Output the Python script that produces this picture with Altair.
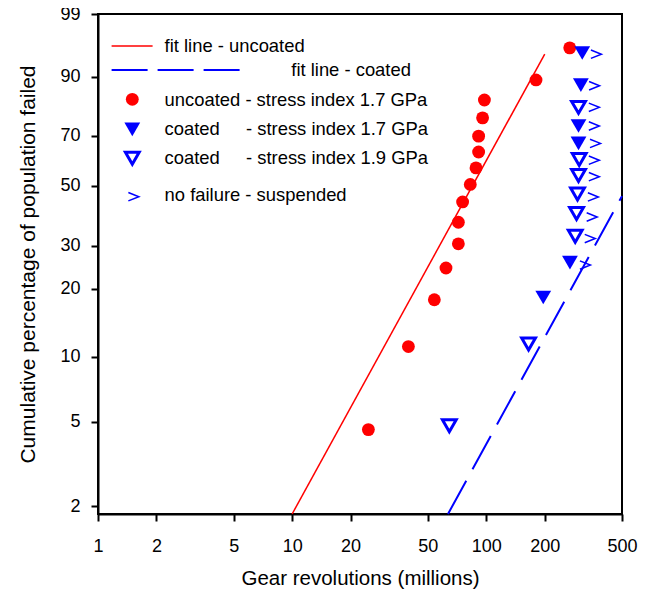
import numpy as np
import pandas as pd
import altair as alt

FONT = "Liberation Sans"
RED = "#ff0000"
BLUE = "#0000ff"

# ---- data ----
uncoated_rev = [24.7, 39.7, 54.0, 62.0, 71.8, 71.8, 75.5, 82.7, 88.5, 91.3, 91.3, 95.7, 97.8, 180.3, 269.0]
uncoated_pct = [4.6, 11.1, 17.9, 24.4, 30.6, 37.1, 44.0, 50.5, 57.0, 63.4, 69.8, 76.9, 83.2, 89.2, 95.8]

coated17_rev = [312.0, 307.0, 298.5, 298.5, 269.7, 196.5]
coated17_pct = [95.0, 87.8, 73.8, 66.9, 25.7, 18.3]

coated19_rev = [298.5, 301.0, 298.5, 295.0, 291.6, 287.1, 165.1, 64.5]
coated19_pct = [80.7, 60.4, 54.0, 46.9, 40.0, 32.8, 11.4, 4.8]

suspended_rev = [368.0, 360.0, 359.0, 359.0, 364.0, 359.0, 359.0, 355.0, 350.0, 342.0, 323.0]
suspended_pct = [94.8, 87.6, 80.7, 73.8, 66.9, 60.1, 53.5, 45.8, 38.8, 32.1, 25.1]

fit_uncoated_rev = [10.0, 200.0]
fit_uncoated_pct = [1.84, 94.8]
fit_coated_rev = [63.5, 500.0]
fit_coated_pct = [1.84, 46.1]

x_ticks = [1, 2, 5, 10, 20, 50, 100, 200, 500]
y_ticks_pct = [2, 5, 10, 20, 30, 50, 70, 90, 99]
y_range_pct = [1.84, 99.0]

legend_labels = [
    "fit line - uncoated",
    "fit line - coated",
    "uncoated - stress index 1.7 GPa",
    "coated",
    "- stress index 1.7 GPa",
    "coated",
    "- stress index 1.9 GPa",
    "no failure - suspended",
]


def weib(p):
    p = np.asarray(p, dtype=float)
    return np.log(-np.log(1.0 - p / 100.0))


W_EXPR = "log(-log(1 - datum.pct/100))"
y_dom = [float(v) for v in weib(y_range_pct)]
y_tick_vals = [float(v) for v in weib(y_ticks_pct)]

x_enc = alt.X(
    "rev:Q",
    scale=alt.Scale(type="log", domain=[1, 500], nice=False),
    axis=alt.Axis(
        values=x_ticks, format="d", title="Gear revolutions (millions)",
        labelFlush=False, labelOverlap=False, grid=False,
        tickSize=7, labelPadding=16, titleFontSize=20.5,
        titleX=262, titleY=64.5, titleBaseline="middle", titleAlign="center",
    ),
)
y_enc = alt.Y(
    "w:Q",
    scale=alt.Scale(domain=y_dom, nice=False, zero=False),
    axis=alt.Axis(
        values=y_tick_vals,
        labelExpr="format(100*(1-exp(-exp(datum.value))), '.0f')",
        title="Cumulative percentage of population failed",
        labelFlush=False, labelOverlap=False, grid=False,
        tickSize=7, labelPadding=11, titleFontSize=21,
        titleX=-70, titleY=250, titleAngle=270, titleBaseline="middle", titleAlign="center",
    ),
)


def frame(rev, pct):
    return pd.DataFrame({"rev": rev, "pct": pct})


def layer_of(rev, pct):
    return alt.Chart(frame(rev, pct)).transform_calculate(w=W_EXPR)


fit_u = layer_of(fit_uncoated_rev, fit_uncoated_pct).mark_line(
    color=RED, strokeWidth=1.5).encode(x=x_enc, y=y_enc)
fit_c = layer_of(fit_coated_rev, fit_coated_pct).mark_line(
    color=BLUE, strokeWidth=2, strokeDash=[38, 13]).encode(x=x_enc, y=y_enc)

pts_u = layer_of(uncoated_rev, uncoated_pct).mark_point(
    shape="circle", filled=True, color=RED, size=165, opacity=1).encode(x=x_enc, y=y_enc)
pts_c17 = layer_of(coated17_rev, coated17_pct).mark_point(
    shape="triangle-down", filled=True, color=BLUE, size=250, opacity=1).encode(x=x_enc, y=y_enc)
pts_c19 = layer_of(coated19_rev, coated19_pct).mark_point(
    shape="triangle-down", filled=False, color=BLUE, strokeWidth=3, size=190, opacity=1).encode(x=x_enc, y=y_enc)
CHEVRON = "M-1,-0.8L1,0L-1,0.8"
pts_s = layer_of(suspended_rev, suspended_pct).mark_point(
    shape=CHEVRON, filled=False, color=BLUE, strokeWidth=1.5, size=110, opacity=1).encode(x=x_enc, y=y_enc)

# ---- legend (drawn inside the plot, top-left) ----
one = pd.DataFrame({"k": [0]})
LX_SYM = 34.3
LX_TXT = 66.6
LX_DASH = 148
rows_y = [32, 56, 86, 115, 144, 181]

leg = []
leg.append(alt.Chart(one).mark_rule(color=RED, strokeWidth=1.5).encode(
    x=alt.value(13.6), x2=alt.value(54.6), y=alt.value(rows_y[0])))
leg.append(alt.Chart(one).mark_rule(color=BLUE, strokeWidth=2, strokeDash=[36, 10]).encode(
    x=alt.value(13.6), x2=alt.value(144.6), y=alt.value(rows_y[1])))
leg.append(alt.Chart(one).mark_point(shape="circle", filled=True, color=RED, size=165, opacity=1).encode(
    x=alt.value(LX_SYM), y=alt.value(rows_y[2] - 0.7)))
leg.append(alt.Chart(one).mark_point(shape="triangle-down", filled=True, color=BLUE, size=250, opacity=1).encode(
    x=alt.value(LX_SYM), y=alt.value(rows_y[3] + 0.3)))
leg.append(alt.Chart(one).mark_point(shape="triangle-down", filled=False, color=BLUE, strokeWidth=3, size=190, opacity=1).encode(
    x=alt.value(LX_SYM), y=alt.value(rows_y[4] + 0.3)))
leg.append(alt.Chart(one).mark_point(shape=CHEVRON, filled=False, color=BLUE, strokeWidth=1.5, size=110, opacity=1).encode(
    x=alt.value(LX_SYM + 1.3), y=alt.value(rows_y[5] + 1.7)))

text_items = [
    (legend_labels[0], LX_TXT, rows_y[0]),
    (legend_labels[1], 193.3, rows_y[1]),
    (legend_labels[2], LX_TXT, rows_y[2]),
    (legend_labels[3], LX_TXT, rows_y[3]),
    (legend_labels[4], LX_DASH, rows_y[3]),
    (legend_labels[5], LX_TXT, rows_y[4]),
    (legend_labels[6], LX_DASH, rows_y[4]),
    (legend_labels[7], LX_TXT, rows_y[5]),
]
for txt, tx, ty in text_items:
    leg.append(alt.Chart(one).mark_text(
        align="left", baseline="middle", font=FONT, fontSize=18.4, color="black").encode(
        x=alt.value(tx), y=alt.value(ty), text=alt.value(txt)))

chart = alt.layer(fit_u, fit_c, pts_u, pts_c17, pts_c19, pts_s, *leg).properties(
    width=524, height=500,
    autosize=alt.AutoSizeParams(type="none"),
    padding={"left": 90, "top": 6, "right": 20, "bottom": 75},
).configure_view(
    stroke="black", strokeWidth=2,
).configure_axis(
    labelFont=FONT, labelFontSize=18, labelColor="black",
    titleFont=FONT, titleFontWeight="normal", titleColor="black",
    domainColor="black", domainWidth=2, tickColor="black", tickWidth=2,
)

chart.save("out.html", embed_options={"renderer": "svg", "actions": False})
